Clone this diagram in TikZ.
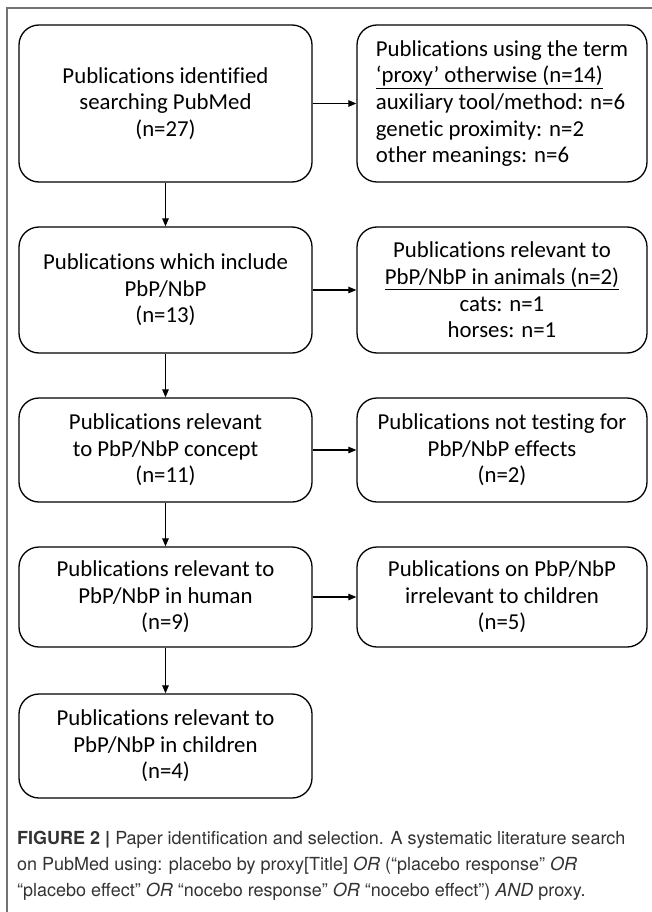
\documentclass[tikz,border=0pt]{standalone}
\usepackage{fontspec}
\setmainfont{Carlito}[Ligatures=NoCommon]
\newfontfamily\capfont{TeX Gyre Heros}
\usetikzlibrary{arrows.meta}
\tikzset{
  pub/.style={draw, rounded corners=20pt, line width=1.3pt, align=center, inner sep=0pt,
    font=\fontsize{22.8}{26.6}\selectfont},
  lbox/.style={pub, minimum width=293pt},
  rbox/.style={pub, minimum width=290pt},
  flow/.style={-{Triangle[length=8pt,width=6.5pt]}, line width=1.2pt}
}

\begin{document}
\begin{tikzpicture}[x=1pt,y=1pt]
\useasboundingbox (0,0) rectangle (652,-912);
\draw[black!55, line width=1.5pt] (7,-912) -- (7,-8) -- (652,-8);

\node[lbox, minimum height=157pt] (ident) at (165.5,-103.5) {Publications identified\\searching PubMed\\(n=27)};
\node[rbox, minimum height=157pt, align=left] (otherwise) at (502,-103.5) {Publications using the term\\\underline{‘proxy’ otherwise (n=14)}\\auxiliary tool/method: n=6\\genetic proximity: n=2\\other meanings: n=6};

\node[lbox, minimum height=126pt] (incl) at (165.5,-290) {Publications which include\\PbP/NbP\\(n=13)};
\node[rbox, minimum height=126pt] (animals) at (502,-290) {Publications relevant to\\\underline{PbP/NbP in animals (n=2)}\\cats: n=1\\horses: n=1};

\node[lbox, minimum height=104pt] (concept) at (165.5,-450) {Publications relevant\\to PbP/NbP concept\\(n=11)};
\node[rbox, minimum height=104pt] (notest) at (502,-450) {Publications not testing for\\PbP/NbP effects\\(n=2)};

\node[lbox, minimum height=100pt] (human) at (165.5,-597) {Publications relevant to\\PbP/NbP in human\\(n=9)};
\node[rbox, minimum height=100pt] (irrel) at (502,-597) {Publications on PbP/NbP\\irrelevant to children\\(n=5)};

\node[lbox, minimum height=104pt] (children) at (165.5,-746) {Publications relevant to\\PbP/NbP in children\\(n=4)};

\draw[flow] (ident) -- (otherwise);
\draw[flow] (ident) -- (incl);
\draw[flow] (incl) -- (animals);
\draw[flow] (incl) -- (concept);
\draw[flow] (concept) -- (notest);
\draw[flow] (concept) -- (human);
\draw[flow] (human) -- (irrel);
\draw[flow] (human) -- (children);

% caption
\node[anchor=north west, align=left, inner sep=0pt, text=black!80,
  font=\capfont\fontsize{18}{26}\selectfont] (caption) at (17,-831)
  {\textbf{FIGURE 2 |} Paper identification and selection. A systematic literature search\\
   on PubMed using: placebo by proxy[Title] \textit{OR} (“placebo response” \textit{OR}\\
   “placebo effect” \textit{OR} “nocebo response” \textit{OR} “nocebo effect”) \textit{AND} proxy.};
\end{tikzpicture}
\end{document}
